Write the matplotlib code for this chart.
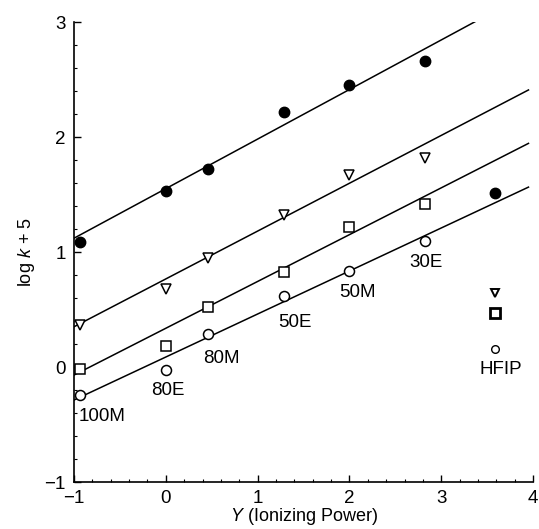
import matplotlib
matplotlib.use("Agg")
import matplotlib.pyplot as plt
import numpy as np
from matplotlib.ticker import MultipleLocator

plt.rcParams['font.family'] = ['Liberation Sans', 'DejaVu Sans']
plt.rcParams['mathtext.fontset'] = 'custom'
plt.rcParams['mathtext.it'] = 'Liberation Sans:italic'
plt.rcParams['mathtext.rm'] = 'Liberation Sans'

# Data (Y ionizing power vs log k + 5)
filled_x = [-0.93, 0.0, 0.46, 1.29, 1.99, 2.82, 3.59]
filled_y = [1.09, 1.53, 1.72, 2.22, 2.45, 2.66, 1.51]

tri_x = [-0.93, 0.0, 0.46, 1.29, 1.99, 2.82]
tri_y = [0.365, 0.68, 0.945, 1.32, 1.67, 1.82]

sq_x = [-0.93, 0.0, 0.46, 1.29, 1.99, 2.82]
sq_y = [-0.02, 0.185, 0.52, 0.83, 1.215, 1.42]

circ_x = [-0.93, 0.0, 0.46, 1.29, 1.99, 2.82]
circ_y = [-0.243, -0.03, 0.287, 0.62, 0.835, 1.10]

hfip_x = 3.58
hfip_tri = 0.64
hfip_sq = 0.467
hfip_circ = 0.154

# Fitted lines: intercept at Y=-1 and slope
line_start = [1.12, 0.35, -0.07, -0.287]
line_slope = [0.431, 0.416, 0.407, 0.374]
line_x = [-1.0, 3.95]

solvent_labels = ['100M', '80E', '80M', '50E', '50M', '30E', 'HFIP']
label_x = [-0.69, 0.02, 0.60, 1.41, 2.09, 2.83, 3.65]
label_y = [-0.43, -0.20, 0.07, 0.39, 0.645, 0.91, -0.02]

fig = plt.figure(figsize=(5.39, 5.29), dpi=100)
ax = fig.add_axes([0.1373, 0.0888, 0.8517, 0.8696])

lx = np.array(line_x)
for b, m in zip(line_start, line_slope):
    ax.plot(lx, b + m * (lx - line_x[0]), color='black', lw=1.1, zorder=2)

ax.plot(filled_x, filled_y, 'o', ms=7.5, color='black', zorder=3)
ax.plot(tri_x, tri_y, 'v', ms=7, mfc='white', mec='black', mew=1.1, zorder=3)
ax.plot(sq_x, sq_y, 's', ms=6.8, mfc='white', mec='black', mew=1.1, zorder=3)
ax.plot(circ_x, circ_y, 'o', ms=7.2, mfc='white', mec='black', mew=1.1, zorder=3)

ax.plot([hfip_x], [hfip_tri], 'v', ms=6, mfc='white', mec='black', mew=1.4, zorder=3)
ax.plot([hfip_x], [hfip_sq], 's', ms=6.5, mfc='white', mec='black', mew=2.0, zorder=3)
ax.plot([hfip_x], [hfip_circ], 'o', ms=5.5, mfc='white', mec='black', mew=1.0, zorder=3)

for t, x, y in zip(solvent_labels, label_x, label_y):
    ax.text(x, y, t, ha='center', va='center', fontsize=13.5)

ax.set_xlim(-1, 4)
ax.set_ylim(-1, 3)
ax.xaxis.set_major_locator(MultipleLocator(1))
ax.yaxis.set_major_locator(MultipleLocator(1))
ax.xaxis.set_minor_locator(MultipleLocator(0.2))
ax.yaxis.set_minor_locator(MultipleLocator(0.2))
ax.tick_params(which='major', direction='in', length=5, width=1, labelsize=13.5, pad=6)
ax.tick_params(which='minor', direction='in', length=2.5, width=0.8)
ax.spines['top'].set_visible(False)
ax.spines['right'].set_visible(False)
ax.spines['left'].set_linewidth(1.2)
ax.spines['bottom'].set_linewidth(1.2)

ax.set_xlabel(r'$\it{Y}$ (Ionizing Power)', fontsize=13, labelpad=-1)
ax.set_ylabel(r'log $\it{k}$ + 5', fontsize=13, labelpad=5)

fig.savefig('out.png', dpi=100)
